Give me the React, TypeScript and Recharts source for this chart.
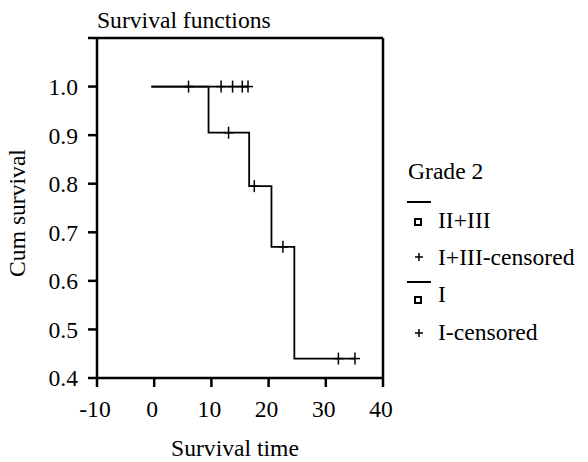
import React from "react"
import {
  ComposedChart,
  Line,
  Scatter,
  XAxis,
  YAxis,
  ReferenceLine,
} from "recharts"

// Grade II+III: step curve (time, cumulative survival)
const groupIITimes = [-0.5, 9.5, 16.6, 20.5, 24.5, 35.1]
const groupIISurv = [1.0, 0.905, 0.795, 0.67, 0.44, 0.44]
const groupIICensorTimes = [13.0, 17.5, 22.5, 32.2, 35.1]
const groupIICensorSurv = [0.905, 0.795, 0.67, 0.44, 0.44]

// Grade I: nobody died, everything censored
const groupITimes = [-0.5, 16.4]
const groupISurv = [1.0, 1.0]
const groupICensorTimes = [6.0, 11.7, 13.7, 15.4, 16.4]
const groupICensorSurv = [1.0, 1.0, 1.0, 1.0, 1.0]

const xTicks = [-10, 0, 10, 20, 30, 40]
const yTicks = [0.4, 0.5, 0.6, 0.7, 0.8, 0.9, 1.0, 1.1]

const FONT = "'Liberation Serif', 'Times New Roman', serif"

const zip = (t: number[], s: number[]) => t.map((v, i) => ({ t: v, s: s[i] }))

const groupII = zip(groupIITimes, groupIISurv)
const groupI = zip(groupITimes, groupISurv)
const groupIICensored = zip(groupIICensorTimes, groupIICensorSurv)
const groupICensored = zip(groupICensorTimes, groupICensorSurv)

const CensorMark = (props: any) => {
  const { cx, cy } = props
  if (cx == null || cy == null) return null
  return (
    <g stroke="#000" strokeWidth={1.5}>
      <line x1={cx - 5} y1={cy} x2={cx + 5} y2={cy} />
      <line x1={cx} y1={cy - 6} x2={cx} y2={cy + 6} />
    </g>
  )
}

const textStyle = { fontFamily: FONT, fontSize: 23.6, fill: "#000" }

// legend drawn on its own, to the right of the plot
function LegendBox() {
  return (
    <svg width={188} height={200} style={{ position: "absolute", left: 400, top: 150 }}>
      <text x={8} y={29} {...textStyle}>Grade 2</text>

      <line x1={7} y1={52} x2={31} y2={52} stroke="#000" strokeWidth={2} />
      <rect x={15} y={69} width={6} height={6} fill="#fff" stroke="#000" strokeWidth={2} />
      <text x={38} y={78} {...textStyle}>II+III</text>

      <g stroke="#000" strokeWidth={1.5}>
        <line x1={15} y1={107} x2={23} y2={107} />
        <line x1={19} y1={103} x2={19} y2={111} />
      </g>
      <text x={38} y={115} {...textStyle}>I+III-censored</text>

      <line x1={7} y1={132} x2={31} y2={132} stroke="#000" strokeWidth={2} />
      <rect x={15} y={147} width={6} height={6} fill="#fff" stroke="#000" strokeWidth={2} />
      <text x={38} y={152} {...textStyle}>I</text>

      <g stroke="#000" strokeWidth={1.5}>
        <line x1={15} y1={183} x2={23} y2={183} />
        <line x1={19} y1={179} x2={19} y2={187} />
      </g>
      <text x={38} y={190} {...textStyle}>I-censored</text>
    </svg>
  )
}

export default function App() {
  const axisStroke = { stroke: "#000", strokeWidth: 2.5 }
  return (
    <div style={{ position: "absolute", left: 0, top: 0, width: 588, height: 462, background: "#fff" }}>
      <ComposedChart
        width={588}
        height={462}
        margin={{ top: 38, right: 205, left: 0, bottom: 0 }}
        style={{ fontFamily: FONT }}
      >
        <XAxis
          dataKey="t"
          type="number"
          domain={[-10, 40]}
          ticks={xTicks}
          interval={0}
          allowDataOverflow
          height={84}
          axisLine={axisStroke}
          tickLine={axisStroke}
          tickSize={9}
          tickMargin={13}
          tick={{ ...textStyle, dx: -2 }}
          label={{
            content: ({ viewBox }: any) => (
              <text
                x={viewBox.x + viewBox.width / 2 - 5}
                y={viewBox.y + 78}
                textAnchor="middle"
                {...textStyle}
              >
                Survival time
              </text>
            ),
          }}
        />
        <YAxis
          dataKey="s"
          type="number"
          domain={[0.4, 1.1]}
          ticks={yTicks}
          interval={0}
          allowDataOverflow
          width={97}
          axisLine={axisStroke}
          tickLine={axisStroke}
          tickSize={9}
          tickMargin={10}
          tick={textStyle}
          tickFormatter={(v: number) => (v > 1.05 ? "" : v.toFixed(1))}
          label={{
            content: ({ viewBox }: any) => {
              const x = 17
              const y = viewBox.y + viewBox.height / 2 + 5
              return (
                <text
                  x={x}
                  y={y}
                  transform={`rotate(-90 ${x} ${y})`}
                  textAnchor="middle"
                  dominantBaseline="central"
                  {...textStyle}
                >
                  Cum survival
                </text>
              )
            },
          }}
        />

        {/* frame: top and right edges, title sits on the top edge */}
        <ReferenceLine
          y={1.1}
          stroke="#000"
          strokeWidth={2.5}
          label={{
            content: ({ viewBox }: any) => (
              <text x={viewBox.x} y={viewBox.y - 10} {...textStyle}>
                Survival functions
              </text>
            ),
          }}
        />
        <ReferenceLine x={40} stroke="#000" strokeWidth={2.5} />

        <Line
          data={groupI}
          dataKey="s"
          type="stepAfter"
          stroke="#000"
          strokeWidth={1.8}
          dot={false}
          activeDot={false}
          isAnimationActive={false}
          name="I"
        />
        <Line
          data={groupII}
          dataKey="s"
          type="stepAfter"
          stroke="#000"
          strokeWidth={1.8}
          dot={false}
          activeDot={false}
          isAnimationActive={false}
          name="II+III"
        />
        <Scatter
          data={groupICensored}
          dataKey="s"
          shape={CensorMark}
          isAnimationActive={false}
          name="I-censored"
        />
        <Scatter
          data={groupIICensored}
          dataKey="s"
          shape={CensorMark}
          isAnimationActive={false}
          name="I+III-censored"
        />
      </ComposedChart>
      <LegendBox />
    </div>
  )
}
